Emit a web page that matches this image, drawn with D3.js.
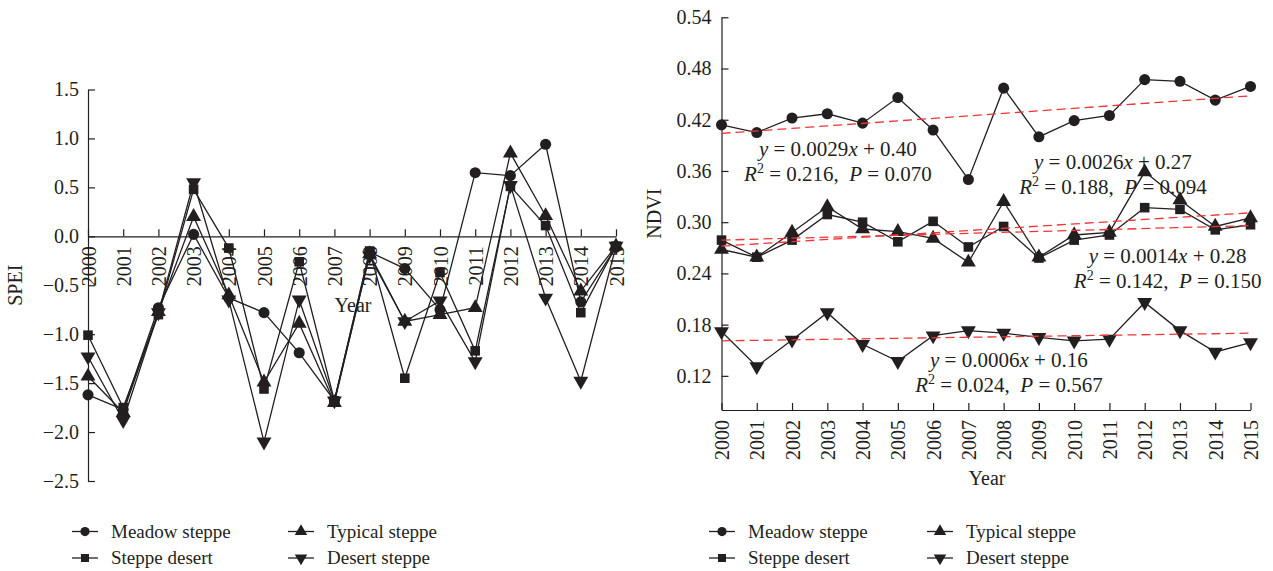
<!doctype html>
<html lang="en">
<head>
<meta charset="utf-8">
<title>SPEI and NDVI by steppe type, 2000-2015</title>
<script src="https://d3js.org/d3.v7.min.js"></script>
<style>
  body { margin: 0; background: #fff; }
  svg text { font-family: "Liberation Serif", "DejaVu Serif", serif; fill: #231f20; }
  .axis path, .axis line { stroke: #231f20; stroke-width: 1.2; }
  .axis text { font-size: 20px; }
</style>
</head>
<body>
<div id="chart"></div>
<script>
var years = d3.range(2000, 2016);
var seriesNames = ["Meadow steppe", "Typical steppe", "Steppe desert", "Desert steppe"];
var symbols = ["circle", "up", "square", "down"];

// SPEI (left panel)
var speiMeadow  = [-1.62, -1.77, -0.73, 0.02, -0.63, -0.78, -1.19, -1.68, -0.16, -0.33, -0.75, 0.65, 0.62, 0.94, -0.67, -0.11];
var speiTypical = [-1.43, -1.80, -0.77, 0.20, -0.60, -1.49, -0.89, -1.70, -0.18, -0.87, -0.80, -0.73, 0.85, 0.21, -0.56, -0.10];
var speiDesert  = [-1.01, -1.75, -0.80, 0.48, -0.12, -1.56, -0.26, -1.68, -0.15, -1.45, -0.37, -1.17, 0.51, 0.11, -0.78, -0.10];
var speiDSteppe = [-1.23, -1.88, -0.78, 0.55, -0.65, -2.10, -0.65, -1.68, -0.20, -0.87, -0.66, -1.28, 0.52, -0.63, -1.48, -0.10];
var speiTicks = [1.5, 1.0, 0.5, 0.0, -0.5, -1.0, -1.5, -2.0, -2.5];

// NDVI (right panel)
var ndviMeadow  = [0.414, 0.405, 0.422, 0.427, 0.416, 0.446, 0.408, 0.350, 0.457, 0.400, 0.419, 0.425, 0.467, 0.465, 0.443, 0.459];
var ndviTypical = [0.268, 0.259, 0.288, 0.318, 0.292, 0.289, 0.281, 0.253, 0.324, 0.259, 0.285, 0.288, 0.359, 0.326, 0.295, 0.305];
var ndviDesert  = [0.279, 0.259, 0.279, 0.309, 0.300, 0.277, 0.301, 0.271, 0.295, 0.258, 0.279, 0.285, 0.317, 0.315, 0.291, 0.297];
var ndviDSteppe = [0.172, 0.131, 0.162, 0.194, 0.157, 0.137, 0.167, 0.173, 0.170, 0.165, 0.161, 0.163, 0.206, 0.173, 0.148, 0.159];
var ndviTicks = [0.12, 0.18, 0.24, 0.30, 0.36, 0.42, 0.48, 0.54];

// fitted trend lines: NDVI at 2000 and at 2015
var trendStart = [0.404, 0.272, 0.279, 0.161];
var trendEnd   = [0.448, 0.311, 0.296, 0.170];
var fitEq  = ["0.0029", "0.0026", "0.0014", "0.0006"];
var fitB   = ["0.40", "0.27", "0.28", "0.16"];
var fitR2  = ["0.216", "0.188", "0.142", "0.024"];
var fitP   = ["0.070", "0.094", "0.150", "0.567"];
var fitLabelYear = [2003.3, 2011.1, 2012.65, 2008.15];
var fitLabelVal  = [0.378, 0.362, 0.252, 0.130];

var W = 1273, H = 571, ink = "#231f20";

var svg = d3.select("#chart").append("svg")
    .attr("width", W)
    .attr("height", H);

function markerPath(kind, size) {
  if (kind == "circle") return d3.symbol(d3.symbolCircle, size * 1.05)();
  if (kind == "square") return d3.symbol(d3.symbolSquare, size)();
  return d3.symbol(d3.symbolTriangle, size * 1.05)();
}

function drawSeries(g, x, y, values, kind, size) {
  var pts = values.map(function(v, i) { return [years[i], v]; });
  g.append("path")
      .attr("d", d3.line().x(function(d) { return x(d[0]); }).y(function(d) { return y(d[1]); })(pts))
      .attr("fill", "none")
      .attr("stroke", ink)
      .attr("stroke-width", 1.3);
  g.selectAll(null)
      .data(pts)
      .enter()
      .append("path")
      .attr("d", markerPath(kind, size))
      .attr("transform", function(d) {
        return "translate(" + x(d[0]) + "," + y(d[1]) + ")" + (kind == "down" ? " rotate(180)" : "");
      })
      .attr("fill", ink);
}

function rotateYears(axisG) {
  axisG.selectAll(".tick text")
      .attr("transform", "rotate(-90)")
      .attr("x", -10)
      .attr("y", 0)
      .attr("dy", "0.35em")
      .style("text-anchor", "end");
}

// ---------- left: SPEI ----------
var xL = d3.scaleLinear().domain([2000, 2015]).range([88, 616]);
var yL = d3.scaleLinear().domain([-2.5, 1.5]).range([481, 89.5]);

var left = svg.append("g");

left.append("g")
    .attr("class", "axis")
    .attr("transform", "translate(" + xL(2000) + ",0)")
    .call(d3.axisLeft(yL).tickValues(speiTicks).tickFormat(d3.format(".1f")).tickSize(-7).tickSizeOuter(0).tickPadding(9));

var xaxL = left.append("g")
    .attr("class", "axis")
    .attr("transform", "translate(0," + yL(0) + ")")
    .call(d3.axisBottom(xL).tickValues(years).tickFormat(d3.format("d")).tickSize(-7).tickSizeOuter(0));
rotateYears(xaxL);

left.append("text")
    .attr("transform", "translate(22," + ((yL(1.5) + yL(-2.5)) / 2) + ") rotate(-90)")
    .attr("text-anchor", "middle")
    .style("font-size", "20px")
    .text("SPEI");

left.append("text")
    .attr("x", 353)
    .attr("y", 312)
    .attr("text-anchor", "middle")
    .style("font-size", "20px")
    .text("Year");

var speiAll = [speiMeadow, speiTypical, speiDesert, speiDSteppe];
speiAll.forEach(function(s, i) {
  drawSeries(left.append("g"), xL, yL, s, symbols[i], 92);
});

// ---------- right: NDVI ----------
var xR = d3.scaleLinear().domain([2000, 2015]).range([721.5, 1250.5]);
var yR = d3.scaleLinear().domain([0.08, 0.54]).range([410, 17.3]);

var right = svg.append("g");

right.append("g")
    .attr("class", "axis")
    .attr("transform", "translate(" + xR(2000) + ",0)")
    .call(d3.axisLeft(yR).tickValues(ndviTicks).tickFormat(d3.format(".2f")).tickSize(-7).tickSizeOuter(0).tickPadding(10));

var xaxR = right.append("g")
    .attr("class", "axis")
    .attr("transform", "translate(0," + yR(0.08) + ")")
    .call(d3.axisBottom(xR).tickValues(years).tickFormat(d3.format("d")).tickSize(-7).tickSizeOuter(0));
rotateYears(xaxR);

right.append("text")
    .attr("transform", "translate(661," + ((yR(0.54) + yR(0.08)) / 2) + ") rotate(-90)")
    .attr("text-anchor", "middle")
    .style("font-size", "20px")
    .text("NDVI");

right.append("text")
    .attr("x", 987)
    .attr("y", 485)
    .attr("text-anchor", "middle")
    .style("font-size", "20px")
    .text("Year");

var ndviAll = [ndviMeadow, ndviTypical, ndviDesert, ndviDSteppe];
ndviAll.forEach(function(s, i) {
  drawSeries(right.append("g"), xR, yR, s, symbols[i], 92);
});

// red dashed trend lines
right.selectAll(".trend")
    .data(trendStart)
    .enter()
    .append("line")
    .attr("class", "trend")
    .attr("x1", xR(2000))
    .attr("x2", xR(2015))
    .attr("y1", function(d) { return yR(d); })
    .attr("y2", function(d, i) { return yR(trendEnd[i]); })
    .attr("stroke", "#ef3535")
    .attr("stroke-width", 1.3)
    .attr("stroke-dasharray", "9,5");

// fit equations
fitEq.forEach(function(a, i) {
  var cx = xR(fitLabelYear[i]), cy = yR(fitLabelVal[i]);
  var t1 = right.append("text")
      .attr("x", cx).attr("y", cy)
      .attr("text-anchor", "middle")
      .style("font-size", "21px");
  t1.append("tspan").style("font-style", "italic").text("y");
  t1.append("tspan").text(" = " + a);
  t1.append("tspan").style("font-style", "italic").text("x");
  t1.append("tspan").text(" + " + fitB[i]);

  var t2 = right.append("text")
      .attr("x", cx).attr("y", cy + 25)
      .attr("text-anchor", "middle")
      .style("font-size", "21px");
  t2.append("tspan").style("font-style", "italic").text("R");
  t2.append("tspan").attr("dy", -8).style("font-size", "14px").text("2");
  t2.append("tspan").attr("dy", 8).text(" = " + fitR2[i] + ",\u2002");
  t2.append("tspan").style("font-style", "italic").text("P");
  t2.append("tspan").text(" = " + fitP[i]);
});

// ---------- legends ----------
function legend(x0, colGap) {
  var g = svg.append("g");
  var pos = [[0, 0], [colGap, 0], [0, 1], [colGap, 1]];
  seriesNames.forEach(function(name, i) {
    var lx = x0 + pos[i][0], ly = 531.5 + pos[i][1] * 26.5;
    g.append("line")
        .attr("x1", lx - 13).attr("x2", lx + 13)
        .attr("y1", ly).attr("y2", ly)
        .attr("stroke", ink).attr("stroke-width", 1.3);
    g.append("path")
        .attr("d", markerPath(symbols[i], 64))
        .attr("transform", "translate(" + lx + "," + ly + ")" + (symbols[i] == "down" ? " rotate(180)" : ""))
        .attr("fill", ink);
    g.append("text")
        .attr("x", lx + 26).attr("y", ly + 6)
        .style("font-size", "19px")
        .text(name);
  });
}
legend(85, 216);
legend(722, 218);
</script>
</body>
</html>
